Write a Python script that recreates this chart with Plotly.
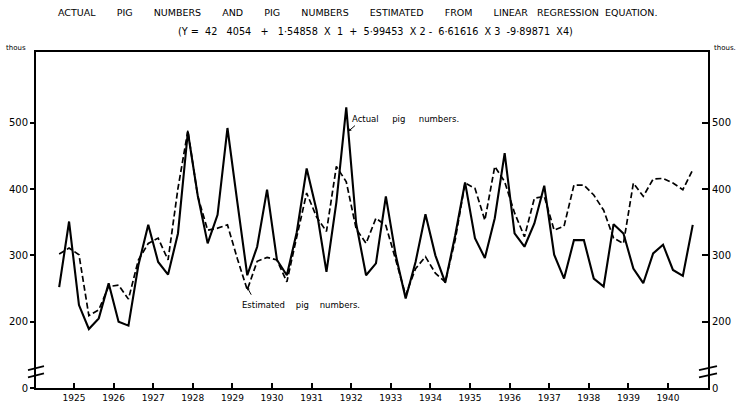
import plotly.graph_objects as go

# ---- data (quarterly) ----
start_year = 1924.625          # first quarterly observation
step = 0.25                    # one quarter
actual = [252, 351, 225, 189, 205, 258, 200, 194, 285, 346,
          290, 271, 333, 486, 390, 318, 361, 492, 380, 270,
          313, 399, 293, 270, 335, 431, 368, 275, 380, 523,
          348, 270, 288, 389, 300, 235, 290, 362, 300, 259,
          330, 410, 326, 296, 356, 454, 333, 313, 348, 405,
          301, 265, 323, 323, 265, 253, 347, 333, 280, 258,
          303, 316, 278, 269, 346]
estimated = [302, 311, 301, 209, 218, 253, 255, 234, 293, 318,
             326, 293, 401, 488, 389, 338, 341, 346, 295, 248,
             291, 297, 293, 260, 328, 394, 358, 336, 434, 411,
             340, 318, 356, 345, 293, 240, 280, 298, 273, 260,
             323, 409, 401, 353, 434, 411, 364, 328, 386, 389,
             338, 344, 406, 406, 391, 368, 326, 318, 409, 389,
             415, 416, 409, 399, 429]
years = list(range(1925, 1941))
y_ticks = [100, 200, 300, 400, 500]
y_tick_labels = ["0", "200", "300", "400", "500"]

x = [start_year + step * i for i in range(len(actual))]

FONT = "DejaVu Sans"
NB = "\u00a0"
INK = "black"

fig = go.Figure()
fig.add_trace(go.Scatter(x=x, y=actual, mode="lines", name="Actual pig numbers",
                         line=dict(color=INK, width=2.1), showlegend=False))
fig.add_trace(go.Scatter(x=x, y=estimated, mode="lines", name="Estimated pig numbers",
                         line=dict(color=INK, width=1.7, dash="6px,3px"),
                         showlegend=False))
# invisible trace to carry the right-hand axis
fig.add_trace(go.Scatter(x=x, y=actual, mode="lines", yaxis="y2",
                         line=dict(color="rgba(0,0,0,0)", width=0),
                         hoverinfo="skip", showlegend=False))

yr = [100, 606.6]
fig.update_layout(
    width=739, height=408,
    margin=dict(l=36, r=31, t=52, b=20, autoexpand=False),
    paper_bgcolor="white", plot_bgcolor="white",
    font=dict(family=FONT, size=10, color=INK),
    xaxis=dict(range=[1924.04, 1941.01], tickvals=years,
               ticktext=[str(y) for y in years],
               ticks="inside", ticklen=5, tickwidth=1.5, tickcolor=INK,
               showline=True, linewidth=2, linecolor=INK, mirror=True,
               showgrid=False, zeroline=False, tickfont=dict(size=9, color=INK)),
    yaxis=dict(range=yr, tickvals=y_ticks, ticktext=y_tick_labels,
               ticks="outside", ticklen=4, tickwidth=1.5, tickcolor=INK,
               showline=True, linewidth=2, linecolor=INK,
               showgrid=False, zeroline=False, tickfont=dict(size=10, color=INK)),
    yaxis2=dict(range=yr, tickvals=y_ticks, ticktext=y_tick_labels,
                overlaying="y", side="right",
                ticks="inside", ticklen=6, tickwidth=1.5, tickcolor=INK,
                showline=True, linewidth=2, linecolor=INK,
                showgrid=False, zeroline=False, tickfont=dict(size=10, color=INK)),
)

sp = NB * 7
title1 = (sp.join(["ACTUAL", "PIG", "NUMBERS", "AND", "PIG", "NUMBERS",
                   "ESTIMATED", "FROM", "LINEAR"]) + NB * 3 + "REGRESSION" + NB * 2 + "EQUATION.")
title2 = ("(Y" + NB + "=" + NB * 2 + "42" + NB * 3 + "4054" + NB * 3 + "+" + NB * 3 +
          "1·54858" + NB * 2 + "X" + NB * 2 + "1" + NB * 2 + "+" + NB * 2 +
          "5·99453" + NB * 2 + "X" + NB + "2" + NB + "-" + NB * 2 + "6·61616" + NB * 2 +
          "X" + NB + "3" + NB * 2 + "-9·89871" + NB * 2 + "X4)")

lab = dict(size=8.5, color=INK)
ann = [
    dict(text=title1, x=0.479, y=1.1176, xref="paper", yref="paper",
         showarrow=False, font=dict(size=9.5, color=INK), xanchor="center", yanchor="middle"),
    dict(text=title2, x=0.505, y=1.0625, xref="paper", yref="paper",
         showarrow=False, font=dict(size=9.7, color=INK), xanchor="center", yanchor="middle"),
    dict(text="thous", x=-0.048, y=1.012, xref="paper", yref="paper",
         showarrow=False, font=dict(size=7, color=INK), xanchor="left", yanchor="middle"),
    dict(text="thous.", x=1.0446, y=1.012, xref="paper", yref="paper",
         showarrow=False, font=dict(size=7, color=INK), xanchor="right", yanchor="middle"),
    dict(text="Actual" + NB * 5 + "pig" + NB * 5 + "numbers.", x=1931.97, y=505,
         xref="x", yref="y", showarrow=False, font=lab,
         xanchor="left", yanchor="middle"),
    dict(text="", x=1931.93, y=487, xref="x", yref="y", showarrow=True,
         ax=8, ay=-7, arrowhead=2, arrowsize=0.6, arrowwidth=1, arrowcolor=INK),
    dict(text="Estimated" + NB * 4 + "pig" + NB * 4 + "numbers.", x=1929.19, y=225,
         xref="x", yref="y", showarrow=False, font=lab,
         xanchor="left", yanchor="middle"),
    dict(text="", x=1929.37, y=252, xref="x", yref="y", showarrow=True,
         ax=5, ay=9, arrowhead=2, arrowsize=0.6, arrowwidth=1, arrowcolor=INK),
]
fig.update_layout(annotations=ann)

# axis-break marks
shapes = []
px = 1 / 672.0
for xc, half in ((0.0, 8), (1.0, 9)):
    for yv in (130, 119):
        shapes.append(dict(type="line", xref="paper", yref="y",
                           x0=xc - half * px, x1=xc + half * px,
                           y0=yv - 3, y1=yv + 3,
                           line=dict(color=INK, width=1.8)))
fig.update_layout(shapes=shapes)

fig.write_html("out.html", config={"displayModeBar": False},
               post_script="document.body.style.margin='0';")
